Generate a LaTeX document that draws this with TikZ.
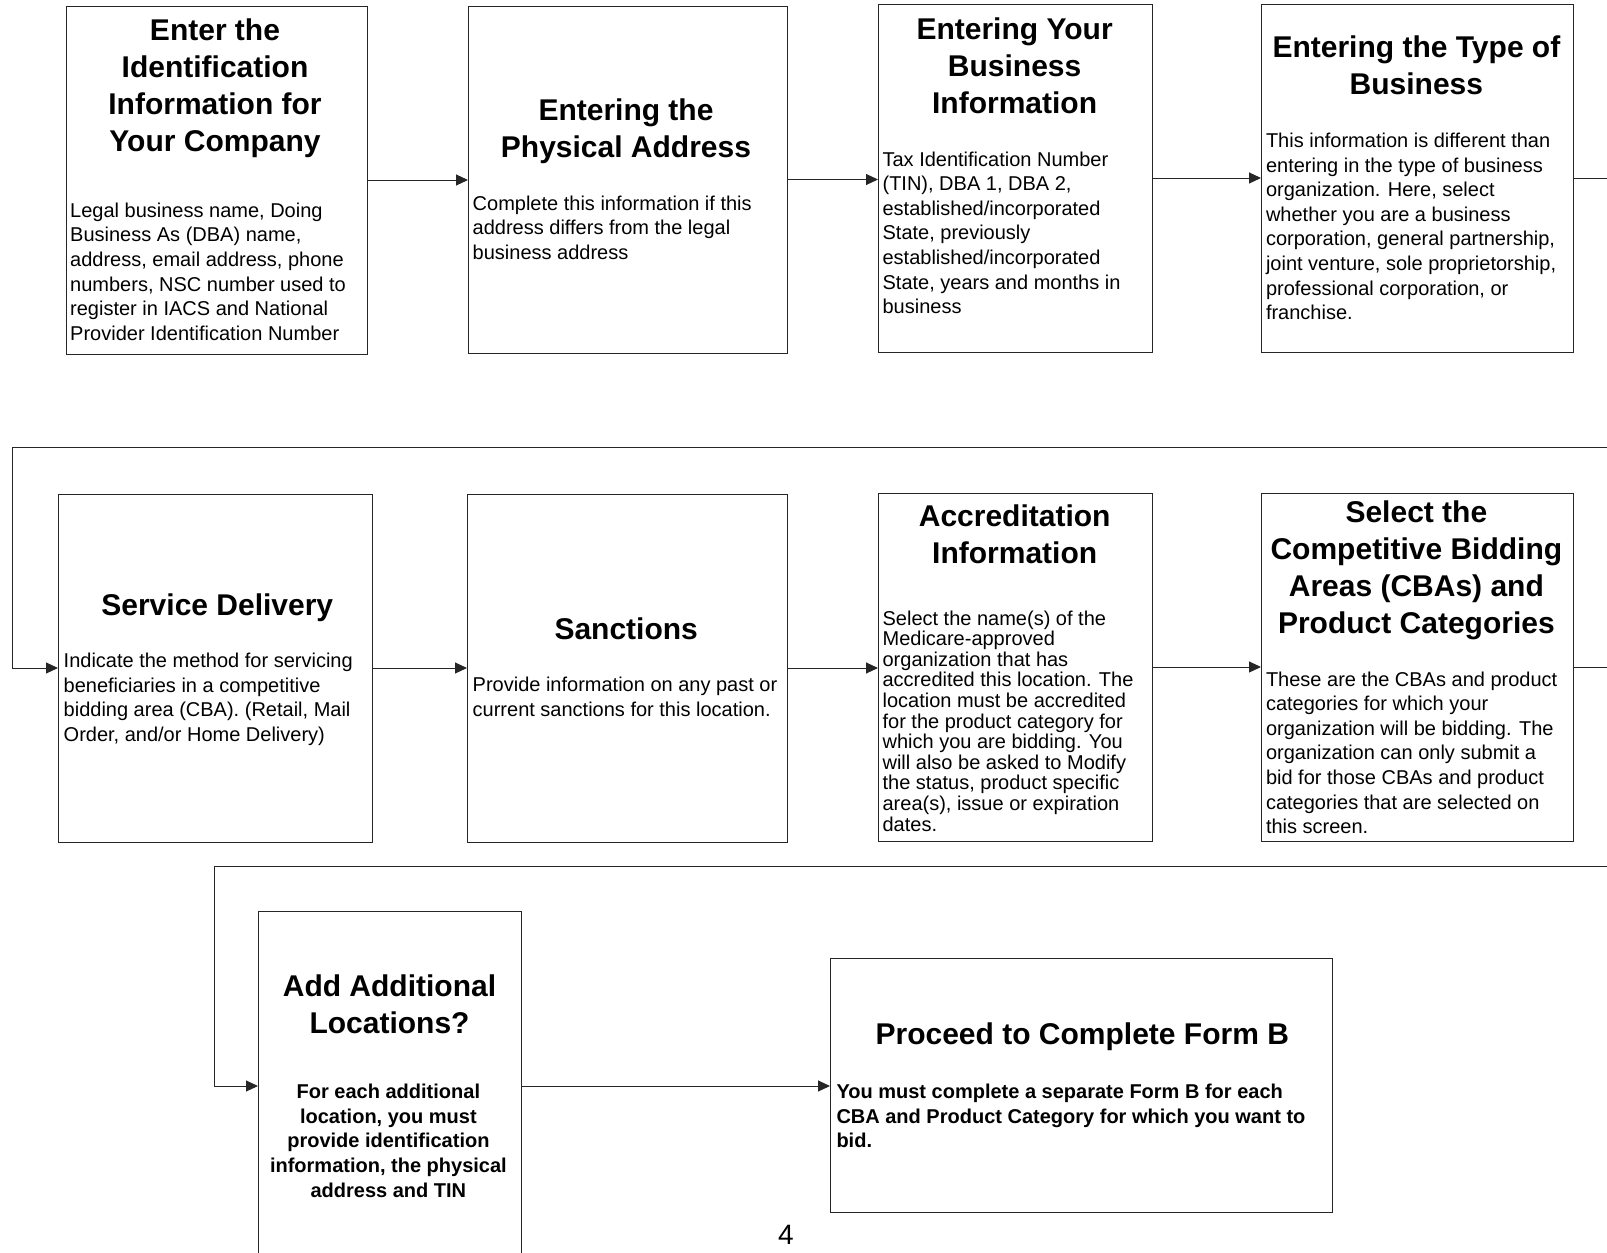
\documentclass[tikz,border=0pt]{standalone}
\usepackage{fontspec}
\setmainfont{Liberation Sans}
\usetikzlibrary{arrows.meta}
\begin{document}
\begin{tikzpicture}[x=1pt,y=-1pt,
  stepbox/.style={draw=black!85, line width=1pt, inner sep=0pt, outer sep=0pt, fill=none},
  ttl/.style={font=\fontsize{30}{37}\selectfont\bfseries, align=center, inner sep=0pt, anchor=center},
  bdy/.style={font=\fontsize{20}{24.6}\selectfont, align=left, inner sep=0pt, anchor=west},
  bdytight/.style={font=\fontsize{20}{20.6}\selectfont, align=left, inner sep=0pt, anchor=west},
  bdybold/.style={font=\fontsize{20}{24.6}\selectfont\bfseries, align=left, inner sep=0pt, anchor=west},
  bdyboldc/.style={font=\fontsize{20}{24.6}\selectfont\bfseries, align=center, inner sep=0pt, anchor=center},
  conn/.style={line width=1pt, draw=black!85, -{Triangle[length=12pt,width=11pt]}},
  plainline/.style={line width=1pt, draw=black!85}
]
\useasboundingbox (0,0) rectangle (1607,1253);
\clip (0,0) rectangle (1607,1253);

% ---------- boxes ----------
\node[stepbox, minimum width=301, minimum height=348] (b1) at (216.5,180) {};
\node[stepbox, minimum width=319, minimum height=347] (b2) at (627.5,179.5) {};
\node[stepbox, minimum width=274, minimum height=348] (b3) at (1015,178) {};
\node[stepbox, minimum width=312, minimum height=348] (b4) at (1417,178) {};
\node[stepbox, minimum width=314, minimum height=348] (b5) at (215,668) {};
\node[stepbox, minimum width=320, minimum height=348] (b6) at (627,668) {};
\node[stepbox, minimum width=274, minimum height=348] (b7) at (1015,667) {};
\node[stepbox, minimum width=312, minimum height=348] (b8) at (1417,667) {};
\node[stepbox, minimum width=263, minimum height=350] (b9) at (389.5,1086) {};
\node[stepbox, minimum width=502, minimum height=254] (b10) at (1081,1085) {};

% ---------- titles ----------
\node[ttl] (t1) at (215,88) {Enter the\\Identification\\Information for\\Your Company};
\node[ttl] (t2) at (626,131.3) {Entering the\\Physical Address};
\node[ttl] (t3) at (1014.6,65.6) {Entering Your\\Business\\Information};
\node[ttl] (t4) at (1416.4,65.1) {Entering the Type of\\Business};
\node[ttl] (t5) at (217.3,607.7) {Service Delivery};
\node[ttl] (t6) at (626.2,628.3) {Sanctions};
\node[ttl] (t7) at (1014.7,534) {Accreditation\\Information};
\node[ttl] (t8) at (1416.4,570.8) {Select the\\Competitive Bidding\\Areas (CBAs) and\\Product Categories};
\node[ttl] (t9) at (389.5,1004.4) {Add Additional\\Locations?};
\node[ttl] (t10) at (1082.3,1037.1) {Proceed to Complete Form B};

% ---------- bodies ----------
\node[bdy] (d1) at (70,271.6) {Legal business name, Doing\\Business As (DBA) name,\\address, email address, phone\\numbers, NSC number used to\\register in IACS and National\\Provider Identification Number};
\node[bdy] (d2) at (472.5,227.5) {Complete this information if this\\address differs from the legal\\business address};
\node[bdy] (d3) at (882.4,232.7) {Tax Identification Number\\(TIN), DBA 1, DBA 2,\\established/incorporated\\State, previously\\established/incorporated\\State, years and months in\\business};
\node[bdy] (d4) at (1265.8,226.5) {This information is different than\\entering in the type of business\\organization. Here, select\\whether you are a business\\corporation, general partnership,\\joint venture, sole proprietorship,\\professional corporation, or\\franchise.};
\node[bdy] (d5) at (63.5,699.4) {Indicate the method for servicing\\beneficiaries in a competitive\\bidding area (CBA). (Retail, Mail\\Order, and/or Home Delivery)};
\node[bdy] (d6) at (472.5,697) {Provide information on any past or\\current sanctions for this location.};
\node[bdytight] (d7) at (882.4,721) {Select the name(s) of the\\Medicare-approved\\organization that has\\accredited this location. The\\location must be accredited\\for the product category for\\which you are bidding. You\\will also be asked to Modify\\the status, product specific\\area(s), issue or expiration\\dates.};
\node[bdy] (d8) at (1265.8,752.8) {These are the CBAs and product\\categories for which your\\organization will be bidding. The\\organization can only submit a\\bid for those CBAs and product\\categories that are selected on\\this screen.};
\node[bdyboldc] (d9) at (388.4,1140.7) {For each additional\\location, you must\\provide identification\\information, the physical\\address and TIN};
\node[bdybold] (d10) at (836.3,1116.1) {You must complete a separate Form B for each\\CBA and Product Category for which you want to\\bid.};

\node[font=\fontsize{28}{32}\selectfont, inner sep=0pt] (pg) at (786,1235) {4};

% ---------- connector end points ----------
\coordinate (r1) at (1612,177);
\coordinate (e2) at (1612,447);
\coordinate (c2) at (12,447);
\coordinate (e3) at (1612,866);
\coordinate (c3) at (214,866);

% ---------- connectors ----------
\draw[conn] (b1.east) -- (b1.east -| b2.west);
\draw[conn] (b2.east) -- (b2.east -| b3.west);
\draw[conn] (b3.east) -- (b3.east -| b4.west);
\draw[plainline] (b4.east) -- (b4.east -| r1);
\draw[conn] (e2) -- (c2) |- (b5.west);
\draw[conn] (b5.east) -- (b5.east -| b6.west);
\draw[conn] (b6.east) -- (b6.east -| b7.west);
\draw[conn] (b7.east) -- (b7.east -| b8.west);
\draw[plainline] (b8.east) -- (b8.east -| e2);
\draw[conn] (e3) -- (c3) |- (b9.west);
\draw[conn] (b9.east) -- (b9.east -| b10.west);
\end{tikzpicture}
\end{document}
